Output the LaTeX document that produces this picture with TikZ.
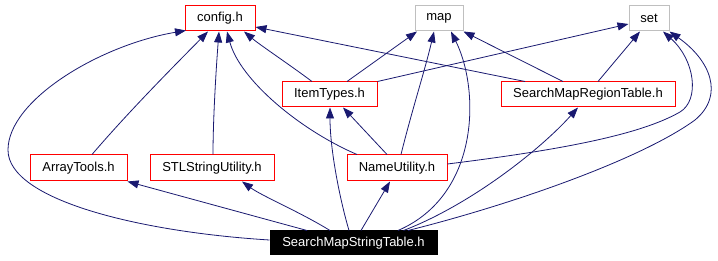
\documentclass[tikz,border=0pt]{standalone}
\usepackage{fontspec}
\setmainfont{Liberation Sans}
\usetikzlibrary{arrows.meta}
\definecolor{edgeblue}{RGB}{25,25,112}
\definecolor{boxred}{RGB}{255,0,0}
\definecolor{boxgray}{RGB}{191,191,191}
\tikzset{
  filebox/.style={draw=boxred, line width=1pt, fill=white, inner sep=0pt,
    minimum height=25pt, font=\fontsize{13}{15}\selectfont},
  extbox/.style={filebox, draw=boxgray},
  rootbox/.style={filebox, draw=black, fill=black, text=white},
  dep/.style={draw=edgeblue, line width=0.8pt,
    -{Triangle[length=11pt,width=8pt]}},
}
\begin{document}
\begin{tikzpicture}[x=1pt,y=-1pt]
\useasboundingbox (0,0) rectangle (718,261);
% header files
\node[filebox, minimum width=70pt]  (config)  at (220,18.5) {config.h};
\node[extbox,  minimum width=48pt]  (map)     at (439,18.5) {map};
\node[extbox,  minimum width=40pt]  (set)     at (649,18.5) {set};
\node[filebox, minimum width=95pt]  (items)   at (329.5,94.5) {ItemTypes.h};
\node[filebox, minimum width=174pt] (region)  at (588,94.5) {SearchMapRegionTable.h};
\node[filebox, minimum width=97pt, minimum height=26pt]  (array) at (78.5,168) {ArrayTools.h};
\node[filebox, minimum width=124pt, minimum height=26pt] (stl)   at (212,168) {STLStringUtility.h};
\node[filebox, minimum width=100pt, minimum height=26pt] (names) at (397,168) {NameUtility.h};
\node[rootbox, minimum width=167pt, minimum height=24pt] (root)  at (353.5,243) {SearchMapStringTable.h};

% includes of config.h
\draw[dep] ([yshift=3pt]root.west) .. controls (140,232) and (8,200) .. (8,150)
           .. controls (8,100) and (100,45) .. ([xshift=-34pt,yshift=1pt]config.south);
\draw[dep] ([xshift=13.5pt]array.north) .. controls (130,110) and (180,60) .. ([xshift=-12pt]config.south);
\draw[dep] ([xshift=1pt]stl.north) .. controls (213,120) and (216,70) .. ([xshift=-1pt]config.south);
\draw[dep] ([xshift=-40pt]names.north) .. controls (300,130) and (240,80) .. ([xshift=7pt]config.south);
\draw[dep] ([xshift=-17.5pt]items.north) .. controls (290,65) and (260,45) .. ([xshift=24pt]config.south);
\draw[dep] ([xshift=-63pt]region.north) -- ([yshift=-8.5pt]config.east);

% includes of map
\draw[dep] ([xshift=17.5pt]items.north) -- ([xshift=-22pt]map.south);
\draw[dep] ([xshift=4pt]names.north) .. controls (412,110) and (425,70) .. ([xshift=-5pt]map.south);
\draw[dep] ([xshift=44.5pt]root.north) .. controls (480,195) and (480,90) .. ([xshift=12pt]map.south);
\draw[dep] ([xshift=-25pt]region.north) -- (map.south east);

% includes of set
\draw[dep] (items.north east) -- ([yshift=-5.5pt]set.west);
\draw[dep] ([xshift=10pt]region.north) -- ([xshift=-9pt]set.south);
\draw[dep] ([yshift=4pt]names.east) .. controls (560,150) and (640,135) .. (680,112)
           .. controls (700,100) and (695,60) .. ([xshift=14pt]set.south);
\draw[dep] ([xshift=54.5pt]root.north) .. controls (510,205) and (640,160) .. (695,120)
           .. controls (725,95) and (710,60) .. (set.south east);

% remaining includes of the root file
\draw[dep] ([xshift=-4.5pt]root.north) .. controls (340,200) and (330,150) .. ([xshift=0.5pt]items.south);
\draw[dep] ([xshift=-10pt]names.north) -- ([xshift=13.5pt]items.south);
\draw[dep] ([xshift=-46.5pt]root.north) -- (array.south east);
\draw[dep] ([xshift=-23.5pt]root.north) .. controls (300,212) and (262,196) .. ([xshift=30pt]stl.south);
\draw[dep] ([xshift=7.5pt]root.north) -- ([xshift=-7pt]names.south);
\draw[dep] ([xshift=50pt]root.north) .. controls (470,205) and (540,150) .. ([xshift=-10pt]region.south);
\end{tikzpicture}
\end{document}
